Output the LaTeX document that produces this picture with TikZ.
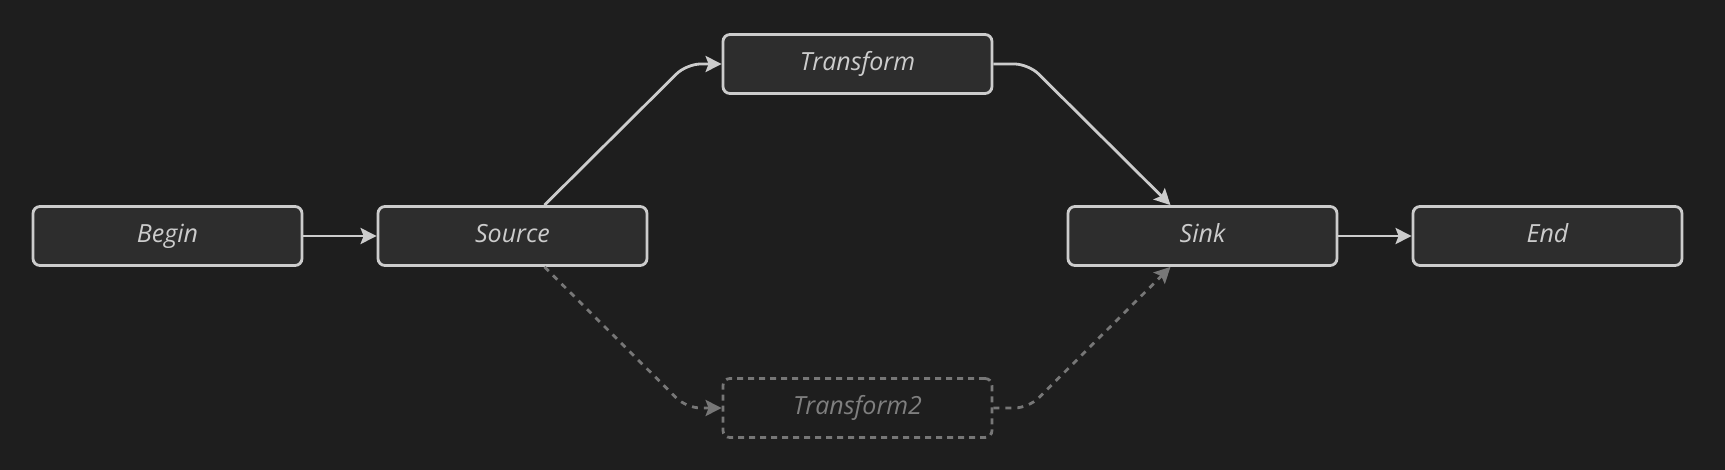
\documentclass[tikz,border=0pt]{standalone}
\usepackage{fontspec}
\setmainfont{Open Sans}
\usetikzlibrary{arrows.meta}
\definecolor{bg}{HTML}{1E1E1E}
\definecolor{nodefill}{HTML}{2D2D2D}
\definecolor{stroke}{HTML}{CCCCCC}
\definecolor{txt}{HTML}{CCCCCC}
\definecolor{dim}{HTML}{777777}
\definecolor{dimtxt}{HTML}{7F7F7F}
\begin{document}
\begin{tikzpicture}[x=1pt,y=-1pt,
  box/.style={draw=stroke, fill=nodefill, line width=2.8pt, rounded corners=7pt,
    minimum width=269pt, minimum height=59pt, inner sep=0pt,
    text height=18.5pt, text depth=5.5pt,
    font=\itshape\fontsize{25}{30}\selectfont, text=txt},
  ghost/.style={box, draw=dim, fill=none, dash pattern=on 6pt off 5pt, text=dimtxt},
  edge/.style={draw=stroke, line width=2.8pt, -{Stealth[length=16pt,width=16pt,inset=3pt]}},
  dedge/.style={edge, draw=dim, dash pattern=on 6pt off 6pt},
]
\fill[bg] (0,0) rectangle (1725,470);
\useasboundingbox (0,0) rectangle (1725,470);

\node[box] (begin) at (167.5,236) {Begin};
\node[box] (src)   at (512.5,236) {Source};
\node[box] (tr)    at (857.5,64)  {Transform};
\node[ghost] (tr2) at (857.5,408) {Transform2};
\node[box] (sink)  at (1202.5,236) {Sink};
\node[box] (end)   at (1547.5,236) {End};

\coordinate (c1) at (686.5,64);
\coordinate (c2) at (1028.5,64);
\coordinate (c3) at (686.5,408);
\coordinate (c4) at (1028.5,408);

\draw[edge] (begin) -- (src);
\draw[edge] (sink) -- (end);
\draw[edge, rounded corners=14pt] ([xshift=32pt]src.north) -- (c1) -- (tr.west);
\draw[edge, rounded corners=14pt] (tr.east) -- (c2) -- ([xshift=-32pt]sink.north);
\draw[dedge, rounded corners=14pt] ([xshift=32pt]src.south) -- (c3) -- (tr2.west);
\draw[dedge, rounded corners=14pt] (tr2.east) -- (c4) -- ([xshift=-32pt]sink.south);
\end{tikzpicture}
\end{document}
